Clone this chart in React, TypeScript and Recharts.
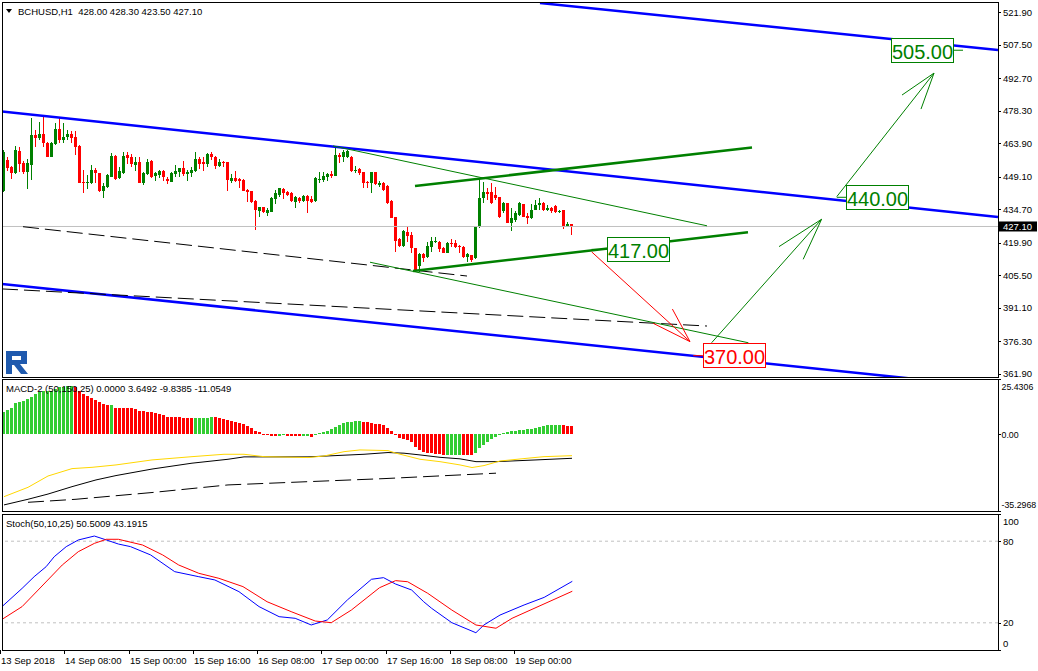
import React from 'react';
import { ComposedChart, Bar, Line, XAxis, YAxis, ReferenceLine, ReferenceDot } from 'recharts';

const FONT = '"Liberation Sans", Arial, Helvetica, sans-serif';
const GREEN = '#008000';
const RED = '#FF0000';
const BLUE = '#0000FF';
const LIME = '#32CD32';

// ---------- DATA ----------
const symbol = 'BCHUSD,H1';
// hourly candles [open, high, low, close], first bar = 13 Sep 16:00
const candles: number[][] = [
  [442.8, 460.9, 442.3, 460.1], [456.5, 457.9, 451.6, 453.1], [453.3, 453.8, 448.2, 450.9], [450.6, 462.7, 450.2, 460.9],
  [460.5, 462.4, 451.2, 454.6], [455.0, 456.2, 450.2, 451.3], [451.3, 456.8, 443.7, 455.0], [454.3, 474.9, 447.6, 467.5],
  [467.5, 469.7, 462.1, 466.3], [466.1, 473.4, 465.3, 468.0], [468.0, 476.4, 462.1, 463.9], [464.0, 464.3, 457.6, 457.9],
  [457.9, 464.6, 457.6, 464.0], [463.4, 473.0, 463.1, 470.2], [470.2, 475.4, 463.9, 465.3], [465.3, 473.0, 463.9, 466.8],
  [466.8, 469.7, 465.3, 467.8], [468.0, 469.4, 464.1, 466.3], [466.8, 469.4, 458.7, 462.4], [462.7, 463.0, 446.1, 446.4],
  [446.9, 452.1, 442.0, 446.2], [446.2, 449.9, 443.7, 446.9], [446.4, 454.3, 446.0, 452.1], [452.1, 452.8, 446.4, 450.6],
  [450.6, 450.8, 442.4, 442.8], [442.8, 446.2, 439.8, 445.0], [444.7, 450.2, 444.3, 449.9], [449.1, 459.4, 448.8, 458.2],
  [458.2, 458.5, 447.6, 448.0], [448.7, 453.5, 448.0, 451.6], [450.6, 460.1, 450.3, 458.2], [458.7, 460.1, 454.6, 457.5],
  [457.7, 459.0, 453.5, 454.6], [454.3, 457.9, 451.8, 455.7], [455.7, 457.9, 446.1, 446.4], [446.2, 451.3, 445.4, 450.9],
  [450.2, 456.9, 449.9, 455.5], [456.0, 456.3, 448.5, 448.8], [449.5, 451.0, 447.3, 450.6], [450.0, 451.9, 448.4, 451.6],
  [451.6, 452.1, 447.3, 448.8], [448.1, 448.8, 446.0, 447.3], [446.9, 451.0, 446.6, 450.6], [450.2, 454.3, 449.1, 451.6],
  [451.0, 453.1, 449.1, 452.8], [452.8, 456.0, 449.5, 450.3], [450.2, 452.1, 447.3, 451.0], [450.9, 453.5, 449.1, 452.1],
  [451.6, 459.9, 451.0, 456.9], [456.9, 457.9, 452.4, 454.7], [455.7, 457.7, 451.8, 454.7], [454.7, 459.7, 453.3, 459.1],
  [459.1, 460.1, 456.5, 457.9], [457.9, 458.2, 452.4, 454.0], [454.0, 456.9, 453.3, 455.7], [455.7, 456.2, 453.3, 455.3],
  [455.5, 455.7, 442.8, 447.6], [447.3, 450.2, 446.4, 448.4], [448.4, 451.6, 446.6, 447.3], [448.1, 448.7, 444.2, 447.3],
  [447.6, 447.9, 442.6, 442.9], [443.2, 443.5, 437.8, 442.5], [442.8, 443.0, 437.5, 437.8], [438.4, 438.6, 425.5, 434.4],
  [434.1, 435.8, 431.4, 435.6], [435.6, 435.8, 432.9, 433.6], [433.2, 435.1, 431.7, 434.4], [433.6, 440.3, 433.3, 439.8],
  [439.2, 443.2, 436.9, 441.8], [441.0, 444.2, 440.0, 444.0], [443.5, 444.2, 439.1, 442.0], [442.5, 443.0, 440.6, 441.0],
  [441.8, 442.5, 438.0, 438.4], [438.0, 440.6, 435.4, 440.0], [439.8, 440.0, 437.3, 438.4], [438.4, 441.0, 438.0, 440.7],
  [440.7, 441.0, 432.9, 438.4], [439.1, 440.7, 437.5, 438.0], [438.4, 449.0, 438.0, 448.7], [447.6, 451.0, 446.2, 448.1],
  [447.6, 451.0, 446.6, 449.5], [449.1, 450.6, 447.3, 450.2], [450.2, 451.6, 448.7, 449.4], [449.5, 462.4, 449.2, 458.7],
  [458.7, 459.4, 455.0, 457.7], [457.7, 460.9, 455.7, 460.1], [457.7, 460.7, 457.4, 460.5], [457.9, 458.2, 451.3, 451.8],
  [451.8, 453.8, 450.6, 452.1], [452.4, 452.8, 449.9, 450.6], [451.0, 451.3, 444.0, 446.4], [446.9, 447.1, 444.0, 446.2],
  [446.2, 451.3, 441.8, 451.0], [451.0, 451.3, 445.5, 445.7], [445.4, 447.3, 444.7, 446.4], [446.4, 446.6, 443.0, 443.2],
  [445.1, 445.4, 437.0, 437.3], [438.4, 438.6, 430.8, 431.0], [431.2, 431.4, 415.7, 420.8], [421.4, 421.9, 418.2, 418.5],
  [418.5, 425.4, 418.2, 425.2], [424.8, 427.3, 420.4, 423.0], [423.3, 424.8, 415.2, 417.5], [417.5, 417.7, 407.1, 407.9],
  [409.6, 415.2, 407.1, 414.8], [414.8, 415.2, 411.5, 413.0], [413.7, 420.4, 413.3, 418.5], [418.2, 422.6, 415.9, 420.8],
  [420.1, 422.6, 419.7, 420.8], [420.4, 420.6, 415.9, 417.1], [417.7, 417.9, 415.3, 415.5], [415.5, 420.4, 415.3, 419.9],
  [419.9, 421.4, 418.2, 419.2], [419.9, 421.1, 417.4, 417.9], [418.5, 418.9, 415.2, 417.9], [418.2, 418.5, 413.0, 413.7],
  [413.5, 415.2, 411.5, 414.9], [414.5, 414.7, 411.5, 412.3], [413.0, 427.0, 412.7, 426.7], [426.7, 448.4, 426.5, 439.5],
  [439.5, 446.9, 437.3, 442.5], [442.2, 444.0, 438.8, 441.3], [442.2, 446.2, 437.0, 437.3], [441.0, 444.7, 438.8, 439.5],
  [440.0, 440.3, 431.0, 431.2], [434.1, 438.0, 432.9, 437.6], [437.3, 437.5, 428.6, 428.8], [428.8, 435.1, 425.2, 430.7],
  [430.0, 434.1, 429.2, 432.9], [432.2, 437.8, 431.9, 437.3], [436.9, 437.1, 431.2, 431.4], [431.9, 432.9, 428.1, 430.7],
  [430.7, 436.9, 430.4, 434.4], [434.4, 438.8, 434.2, 436.6], [436.6, 439.5, 434.4, 437.6], [437.6, 437.8, 434.1, 434.4],
  [434.4, 436.6, 434.0, 435.4], [435.4, 435.8, 432.9, 433.9], [436.1, 436.6, 432.9, 433.4], [433.4, 434.4, 432.9, 433.9],
  [434.4, 434.6, 426.0, 426.7], [426.8, 429.2, 426.7, 428.1], [428.0, 428.3, 423.5, 427.1],
];
const lastPrice = 427.1;
const priceTicks = [521.9, 507.5, 492.7, 478.3, 463.9, 449.1, 434.7, 419.9, 405.5, 391.1, 376.3, 361.9];

const macdHist = [
  10.4, 11.2, 12.3, 14.3, 14.7, 15.3, 16.1, 17.3, 18.6, 19.3, 19.9, 20.0, 20.1, 20.9, 21.6, 21.9, 22.2, 22.4,
  21.9, 19.9, 18.6, 17.6, 16.6, 15.8, 14.7, 13.8, 13.4,
  13.5,
  12.3, 12.3, 12.2, 12.0, 12.0, 11.7, 10.9, 10.7, 10.4, 10.1, 9.7, 9.2, 8.7, 8.1, 8.0, 8.0, 7.9, 7.7, 7.4, 7.3,
  7.4, 7.5, 7.6, 7.7, 7.8,
  7.8, 7.7, 7.1, 6.6, 6.1, 5.8, 5.4, 4.6, 3.8, 2.8, 1.5, 0.9, 0.2, -0.5,
  -0.9, -1.0, -0.6, -0.4, -0.6, -0.9, -1.0, -1.0, -0.9, -0.8, -1.2, -0.2,
  0.5, 0.9, 1.7, 2.3, 3.2, 4.3, 5.1, 5.5, 5.8, 5.9, 6.0,
  5.8, 5.6, 5.4, 4.8, 4.6, 4.3, 3.1, 1.5, 0.2,
  -1.5, -2.1, -2.6, -3.7, -5.7, -7.2, -8.0, -8.4, -8.7, -8.9, -9.2, -9.6,
  -9.5, -9.45, -9.4, -9.35, -9.4, -9.5, -9.6,
  -8.4, -6.4, -4.9, -3.4, -2.1, -1.1, 0.15, 0.6, 1.1, 1.4, 1.5, 1.8, 2.0, 2.3, 2.5, 2.8, 3.2, 3.8, 4.1, 4.3, 4.4, 4.45,
  4.1, 3.8, 3.65,
];
// [bar index, value]
const macdYellowPts = [[0, -28.7], [6, -24.4], [11, -19.2], [17, -15.8], [22, -15.2], [28, -14.1], [37, -11.8], [47, -10.3], [55, -9.2], [60, -9.2], [65, -10.3], [76, -10.7], [80, -10.0], [85, -8.0], [89, -7.2], [96, -7.5], [98, -8.7], [104, -11.5], [109, -12.6], [114, -14.1], [117, -15.3], [120, -14.4], [124, -12.3], [131, -11.0], [135, -10.3], [142, -9.84]];
const macdBlackPts = [[0, -32.5], [6, -29.9], [11, -27.5], [17, -24.1], [23, -21.0], [28, -19.0], [37, -16.0], [47, -13.3], [56, -11.5], [60, -10.4], [76, -10.4], [90, -9.2], [96, -8.4], [100, -8.7], [104, -9.5], [109, -10.6], [114, -11.3], [118, -12.6], [123, -12.6], [133, -11.8], [142, -11.05]];
const macdDashPts = [[6, -31.3], [18, -29.9], [37, -26.8], [56, -23.3], [76, -21.8], [95, -20.4], [114, -18.7], [123, -17.9]];
const macdTicks = [25.4306, 0, -35.2968];
const macdTickLabels = ['25.4306', '0.00', '-35.2968'];

const stochMainPts = [[0, 31.9], [5, 45.3], [8, 53.9], [11, 61.3], [13, 68.6], [16, 76.0], [19, 80.9], [23, 83.8], [26, 80.9], [29, 77.9], [32, 76.0], [37, 69.9], [43, 57.6], [49, 53.9], [53, 51.5], [59, 42.9], [64, 31.9], [69, 24.5], [73, 23.3], [77, 18.4], [81, 22.1], [86, 36.8], [92, 52.0], [95, 53.2], [98, 48.5], [102, 44.1], [105, 35.5], [107, 30.6], [112, 20.1], [118, 12.7], [120, 18.4], [124, 25.7], [130, 33.1], [135, 38.7], [142, 50.5]];
const stochSignalPts = [[0, 22.5], [5, 31.9], [9, 44.1], [15, 62.5], [19, 72.3], [23, 78.4], [26, 81.4], [29, 81.4], [35, 77.2], [40, 69.9], [44, 62.5], [49, 56.4], [54, 52.7], [60, 46.6], [66, 35.5], [72, 28.2], [78, 21.3], [82, 20.1], [87, 29.4], [94, 45.8], [98, 51.0], [101, 50.2], [106, 41.7], [112, 29.4], [118, 18.4], [123, 16.0], [127, 23.3], [142, 43.2]];
const stochTicks = [100, 80, 20, 0];
const stochLevels = [80, 20];

const timeTickIdx = [0, 16, 32, 48, 64, 80, 96, 112, 128];
const timeTickLabels = ['13 Sep 2018', '14 Sep 08:00', '15 Sep 00:00', '15 Sep 16:00', '16 Sep 08:00', '17 Sep 00:00', '17 Sep 16:00', '18 Sep 08:00', '19 Sep 00:00'];

// analysis objects: [barIndex1, price1, barIndex2, price2]
const blueLines = [[-0.5, 477.9, 248.5, 431.3], [134, 525.87, 248.5, 505.1], [-0.5, 401.7, 230, 359.3]];
const dashLines = [[4.75, 427.0, 115.75, 405.2], [-0.5, 399.5, 175.75, 383.1]];
const thinGreenLines = [[82.25, 462.7, 175.75, 427.4], [91.5, 411.3, 186.1, 375.7]];
const thickGreenLines = [[102.75, 445.0, 187, 462.0], [102.25, 407.4, 186, 424.5]];
const redArrow = [[146.9, 415.9, 171.5, 376.2], [167.1, 390.6, 171.5, 376.2], [162.3, 384.3, 171.5, 376.2], [172.3, 370.0, 174.7, 370.0]];
const greenArrows = [
  [176.9, 375.7, 204.4, 430.3], [193.75, 418.2, 204.4, 430.3], [199.8, 412.6, 204.4, 430.3],
  [208.2, 440.3, 232.5, 494.9], [224.5, 485.2, 232.5, 494.9], [229.25, 479.0, 232.5, 494.9],
  [146.9, 417.0, 150.7, 417.0], [208.2, 440.0, 210.5, 440.0], [237.25, 505.0, 239.75, 505.0],
];
const textLabels = [
  { text: '417.00', i: 150.7, p: 422.3, red: false },
  { text: '440.00', i: 210.5, p: 445.4, red: false },
  { text: '505.00', i: 221.75, p: 510.4, red: false },
  { text: '370.00', i: 174.7, p: 375.7, red: true },
];

// ---------- TABLE ----------
const SLOTS = 249;
const rows: Record<string, any>[] = Array.from({ length: SLOTS }, (_, i) => {
  const r: Record<string, any> = { i };
  const c = candles[i];
  if (c) {
    r.o = c[0]; r.h = c[1]; r.l = c[2]; r.c = c[3];
    r.range = [c[2], c[1]];
  }
  if (i < macdHist.length) {
    r.hist = macdHist[i];
    r.histUp = i === 0 || macdHist[i] > macdHist[i - 1];
  }
  return r;
});
const put = (pts: number[][], key: string) => pts.forEach(([i, v]) => { rows[i][key] = v; });
put(macdYellowPts, 'mY');
put(macdBlackPts, 'mB');
put(macdDashPts, 'mD');
put(stochMainPts, 'sK');
put(stochSignalPts, 'sD');

const X_DOMAIN: [number, number] = [-0.5, 248.5];
const PRICE_DOMAIN: [number, number] = [360.57, 526.32];
const MACD_DOMAIN: [number, number] = [-35.2968, 25.4306];

// ---------- SHAPES ----------
function Candle(props: any) {
  const { x, y, width, height, payload } = props;
  if (!payload || payload.o == null || x == null || y == null) return <g />;
  const top = Math.min(y, y + height);
  const span = Math.abs(height);
  const { o, h, l, c } = payload;
  const k = h - l > 0 ? span / (h - l) : 0;
  const py = (v: number) => top + (h - v) * k;
  const cx = Math.round(x + width / 2) - 1;
  const col = c > o ? GREEN : RED;
  const bt = py(Math.max(o, c));
  const bb = py(Math.min(o, c));
  return (
    <g shapeRendering="crispEdges">
      <rect x={cx} y={top} width={1} height={Math.max(span, 1)} fill={col} />
      <rect x={cx - 1} y={bt} width={3} height={Math.max(bb - bt, 1)} fill={col} />
    </g>
  );
}

function HistBar(props: any) {
  const { x, y, width, height, payload } = props;
  if (!payload || payload.hist == null || x == null || y == null) return <g />;
  const top = Math.min(y, y + height);
  const hh = Math.max(Math.abs(height), 1);
  const cx = Math.round(x + width / 2) - 1;
  return <rect x={cx - 1} y={top} width={3} height={hh} fill={payload.histUp ? LIME : RED} shapeRendering="crispEdges" />;
}

const makeYTick = (fmt: (v: number) => string, size: number, dx: number, clampTop?: number, clampBot?: number) => (props: any) => {
  const { x, y, payload } = props;
  let ly = y;
  if (clampTop != null && clampBot != null) ly = Math.max(clampTop, Math.min(clampBot, y));
  return (
    <g>
      <line x1={x} x2={x + 3} y1={Math.round(y) + 0.5} y2={Math.round(y) + 0.5} stroke="#000" />
      <text x={x + dx} y={ly + 3.5} fontSize={size} fontFamily={FONT} fill="#000">{fmt(payload.value)}</text>
    </g>
  );
};

function TimeTick(props: any) {
  const { x, y, payload } = props;
  const k = timeTickIdx.indexOf(Number(payload.value));
  const label = k >= 0 ? timeTickLabels[k] : '';
  const tx = Math.round(x) - 2;
  return (
    <g>
      <line x1={tx + 0.5} x2={tx + 0.5} y1={y} y2={y + 4} stroke="#000" />
      <text x={tx + 1} y={y + 13.5} fontSize={9.5} fontFamily={FONT} fill="#000">{label}</text>
    </g>
  );
}

function LabelBox({ cx, cy, text, color }: any) {
  if (cx == null || cy == null) return <g />;
  const x0 = Math.round(cx) + 0.5;
  const y0 = Math.round(cy) + 0.5;
  return (
    <g>
      <rect x={x0} y={y0} width={62} height={24} fill="#fff" stroke={color} strokeWidth={1} />
      <text x={x0 + 31} y={y0 + 20} textAnchor="middle" fontSize={20} fontFamily={FONT} fill={color}>{text}</text>
    </g>
  );
}

function PriceTag({ cx, cy }: any) {
  if (cx == null || cy == null) return <g />;
  return (
    <g>
      <rect x={cx + 1} y={cy - 5} width={38} height={10} fill="#000" />
      <text x={cx + 5} y={cy + 3.5} fontSize={9.5} fontFamily={FONT} fill="#fff">{lastPrice.toFixed(2)}</text>
    </g>
  );
}

const seg = (s: number[], color: string, w: number, key: string, dash?: string) => (
  <ReferenceLine
    key={key}
    xAxisId="num"
    segment={[{ x: s[0], y: s[1] }, { x: s[2], y: s[3] }]}
    stroke={color}
    strokeWidth={w}
    strokeDasharray={dash}
    ifOverflow="hidden"
  />
);

// ---------- APP ----------
export default function App() {
  const last = candles[candles.length - 1];
  const title = `${symbol}  ${last.map((v) => v.toFixed(2)).join(' ')}`;
  return (
    <div style={{ position: 'absolute', left: 0, top: 0, width: 1038, height: 671, background: '#fff', overflow: 'hidden' }}>
      {/* main price pane */}
      <div style={{ position: 'absolute', left: 0, top: 0 }}>
        <ComposedChart width={1038} height={378} data={rows} margin={{ top: 2, right: 0, bottom: 1, left: 2 }}>
          <XAxis dataKey="i" type="category" hide />
          <XAxis xAxisId="num" dataKey="i" type="number" domain={X_DOMAIN} allowDataOverflow hide />
          <YAxis orientation="right" width={40} domain={PRICE_DOMAIN} allowDataOverflow ticks={priceTicks} interval={0}
            tickSize={0} tickMargin={0} axisLine={false} tickLine={false} tick={makeYTick((v) => v.toFixed(2), 9.5, 5)} />
          <ReferenceLine y={lastPrice} stroke="#C0C0C0" ifOverflow="hidden" />
          {blueLines.map((s, k) => seg(s, BLUE, 2.5, 'b' + k))}
          {dashLines.map((s, k) => seg(s, '#000', 1, 'd' + k, '16 6'))}
          {thinGreenLines.map((s, k) => seg(s, GREEN, 1, 'tg' + k))}
          {thickGreenLines.map((s, k) => seg(s, GREEN, 2.5, 'kg' + k))}
          <Bar dataKey="range" shape={Candle} isAnimationActive={false} />
          {redArrow.map((s, k) => seg(s, RED, 1, 'ra' + k))}
          {greenArrows.map((s, k) => seg(s, GREEN, 1, 'ga' + k))}
          {textLabels.map((t, k) => (
            <ReferenceDot key={'t' + k} xAxisId="num" x={t.i} y={t.p} r={0} ifOverflow="visible"
              shape={(p: any) => <LabelBox cx={p.cx} cy={p.cy} text={t.text} color={t.red ? RED : GREEN} />} />
          ))}
          <ReferenceDot xAxisId="num" x={X_DOMAIN[1]} y={lastPrice} r={0} ifOverflow="visible"
            shape={(p: any) => <PriceTag cx={p.cx} cy={p.cy} />} />
        </ComposedChart>
      </div>

      {/* MACD pane */}
      <div style={{ position: 'absolute', left: 0, top: 378 }}>
        <ComposedChart width={1038} height={134} data={rows} margin={{ top: 1, right: 0, bottom: 1, left: 2 }}>
          <XAxis dataKey="i" type="category" hide />
          <YAxis orientation="right" width={40} domain={MACD_DOMAIN} allowDataOverflow ticks={macdTicks} interval={0}
            tickSize={0} tickMargin={0} axisLine={false} tickLine={false}
            tick={makeYTick((v) => macdTickLabels[macdTicks.indexOf(v)] ?? String(v), 8.8, 3.5, 8, 126.5)} />
          <Bar dataKey="hist" shape={HistBar} isAnimationActive={false} />
          <Line type="linear" dataKey="mD" stroke="#000" strokeWidth={1} strokeDasharray="16 6" dot={false} activeDot={false} connectNulls isAnimationActive={false} />
          <Line type="linear" dataKey="mB" stroke="#000" strokeWidth={1} dot={false} activeDot={false} connectNulls isAnimationActive={false} />
          <Line type="linear" dataKey="mY" stroke="#FFD700" strokeWidth={1} dot={false} activeDot={false} connectNulls isAnimationActive={false} />
        </ComposedChart>
      </div>

      {/* Stochastic pane */}
      <div style={{ position: 'absolute', left: 0, top: 512 }}>
        <ComposedChart width={1038} height={159} data={rows} margin={{ top: 2, right: 0, bottom: 0, left: 2 }}>
          <XAxis dataKey="i" type="category" ticks={timeTickIdx} interval={0} height={21} tickSize={0} tickMargin={0}
            axisLine={false} tickLine={false} tick={TimeTick} />
          <YAxis orientation="right" width={40} domain={[0, 100]} allowDataOverflow ticks={stochTicks} interval={0}
            tickSize={0} tickMargin={0} axisLine={false} tickLine={false}
            tick={makeYTick((v) => String(v), 9.5, 5, 9, 131)} />
          {stochLevels.map((lv) => (
            <ReferenceLine key={'lv' + lv} y={lv} stroke="#C0C0C0" strokeDasharray="3 3" />
          ))}
          <Line type="linear" dataKey="sK" stroke={BLUE} strokeWidth={1} dot={false} activeDot={false} connectNulls isAnimationActive={false} />
          <Line type="linear" dataKey="sD" stroke={RED} strokeWidth={1} dot={false} activeDot={false} connectNulls isAnimationActive={false} />
        </ComposedChart>
      </div>

      {/* frames, titles, logo */}
      <svg width={1038} height={671} style={{ position: 'absolute', left: 0, top: 0, pointerEvents: 'none' }}>
        <g fill="none" stroke="#000" strokeWidth={1}>
          <rect x={2.5} y={2.5} width={996} height={375} />
          <rect x={2.5} y={379.5} width={996} height={132} />
          <rect x={2.5} y={514.5} width={996} height={136} />
        </g>
        <polygon points="6,9 12,9 9,13" fill="#000" />
        <text x={18} y={14.5} fontSize={9.5} fontFamily={FONT} fill="#000" style={{ whiteSpace: 'pre' }}>{title}</text>
        <text x={6} y={391.5} fontSize={9.5} fontFamily={FONT} fill="#000">MACD-2 (50,150,25) 0.0000 3.6492 -9.8385 -11.0549</text>
        <text x={6} y={526.5} fontSize={9.5} fontFamily={FONT} fill="#000">Stoch(50,10,25) 50.5009 43.1915</text>
        <path d="M6 351 H27 V364 H20 L28 374 H21 L14 365 H12 V374 H6 Z M12 356 V360 H21 V356 Z" fill="#1F5AAE" fillRule="evenodd" />
      </svg>
    </div>
  );
}
